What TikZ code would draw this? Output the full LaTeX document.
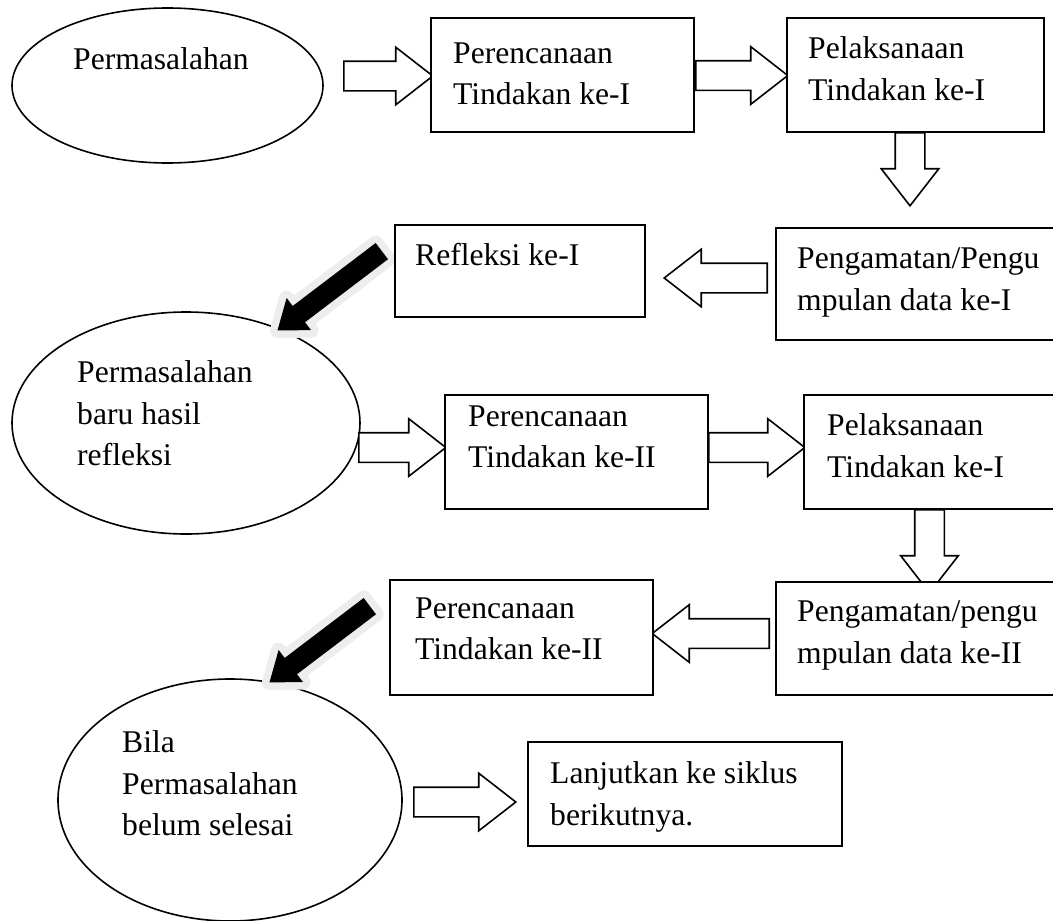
\documentclass[tikz,border=0pt]{standalone}
\usepackage{fontspec}
\setmainfont{Liberation Serif}
\usetikzlibrary{positioning, shapes.geometric, shapes.arrows}

\begin{document}
\begin{tikzpicture}[
  x=1pt, y=-1pt,
  box/.style={draw, fill=white, line width=1.6pt, inner sep=0pt, outer sep=0pt},
  oval/.style={ellipse, draw, line width=1.6pt, inner sep=0pt, outer sep=0pt},
  txt/.style={inner sep=0pt, align=left, anchor=north west, font=\fontsize{31.6}{41.5}\selectfont},
  hollow/.style={single arrow, draw, fill=white, line width=1.6pt, inner xsep=0pt, inner ysep=14pt,
    single arrow head extend=14pt, single arrow tip angle=75.7, anchor=tail},
  blackarrow/.style={single arrow, fill=black, inner xsep=0pt, inner ysep=10pt,
    single arrow head extend=10pt, single arrow tip angle=74, anchor=tail,
    preaction={draw=black!7, line width=15pt, line join=round}}
]
  \useasboundingbox (0,0) rectangle (1053,921);

  % elips
  \node[oval, minimum width=311, minimum height=155] (perm1) at (167.5,85.5) {};
  \node[oval, minimum width=348, minimum height=222] (perm2) at (186,423) {};
  \node[oval, minimum width=344, minimum height=242] (perm3) at (230,800) {};

  % panah kosong
  \node[hollow, minimum height=89] (a1) at (343,76) {};
  \node[hollow, minimum height=92] (a2) at (695,75.5) {};
  \node[hollow, minimum height=73, rotate=-90] (a3) at (910,132) {};
  \node[hollow, minimum height=103, rotate=180] (a4) at (768,278) {};
  \node[hollow, minimum height=87] (a5) at (358,447.5) {};
  \node[hollow, minimum height=96] (a6) at (708,447.5) {};
  \node[hollow, minimum height=83, rotate=-90] (a7) at (929.5,509) {};
  \node[hollow, minimum height=117, rotate=180] (a8) at (770,633.5) {};
  \node[hollow, minimum height=102] (a9) at (413,802) {};

  % panah hitam
  \node[blackarrow, minimum height=131, rotate=217.2] (b1) at (382,251) {};
  \node[blackarrow, minimum height=126, rotate=217.2] (b2) at (370,606) {};

  % kotak
  \node[box, minimum width=263, minimum height=114] (plan1) at (562.5,75) {};
  \node[box, minimum width=257, minimum height=114] (act1) at (915.5,75) {};
  \node[box, minimum width=280, minimum height=112] (obs1) at (916,284) {};
  \node[box, minimum width=250, minimum height=92] (refl1) at (520,271) {};
  \node[box, minimum width=263, minimum height=114] (plan2) at (576.5,452) {};
  \node[box, minimum width=252, minimum height=114] (act2) at (930,452) {};
  \node[box, minimum width=280, minimum height=113] (obs2) at (916,638.5) {};
  \node[box, minimum width=263, minimum height=115] (plan3) at (521.5,637.5) {};
  \node[box, minimum width=314, minimum height=104] (next) at (685,794) {};

  % teks
  \node[txt] (perm1t) at (73,47.5) {Permasalahan};
  \node[txt] (perm2t) at (77,360.5) {Permasalahan\\baru hasil\\refleksi};
  \node[txt] (perm3t) at (122,730.5) {Bila\\Permasalahan\\belum selesai};
  \node[txt, below right=24.5pt and 22pt of plan1.north west] (plan1t) {Perencanaan\\Tindakan ke-I};
  \node[txt, below right=18.5pt and 21pt of act1.north west] (act1t) {Pelaksanaan\\Tindakan ke-I};
  \node[txt, below right=19.5pt and 21pt of obs1.north west] (obs1t) {Pengamatan/Pengu\\mpulan data ke-I};
  \node[txt, below right=18.5pt and 20pt of refl1.north west] (refl1t) {Refleksi ke-I};
  \node[txt, below right=10.5pt and 23pt of plan2.north west] (plan2t) {Perencanaan\\Tindakan ke-II};
  \node[txt, below right=18.5pt and 23pt of act2.north west] (act2t) {Pelaksanaan\\Tindakan ke-I};
  \node[txt, below right=18.5pt and 21pt of obs2.north west] (obs2t) {Pengamatan/pengu\\mpulan data ke-II};
  \node[txt, below right=17.5pt and 25pt of plan3.north west] (plan3t) {Perencanaan\\Tindakan ke-II};
  \node[txt, below right=19.5pt and 22pt of next.north west] (nextt) {Lanjutkan ke siklus\\berikutnya.};
\end{tikzpicture}
\end{document}
